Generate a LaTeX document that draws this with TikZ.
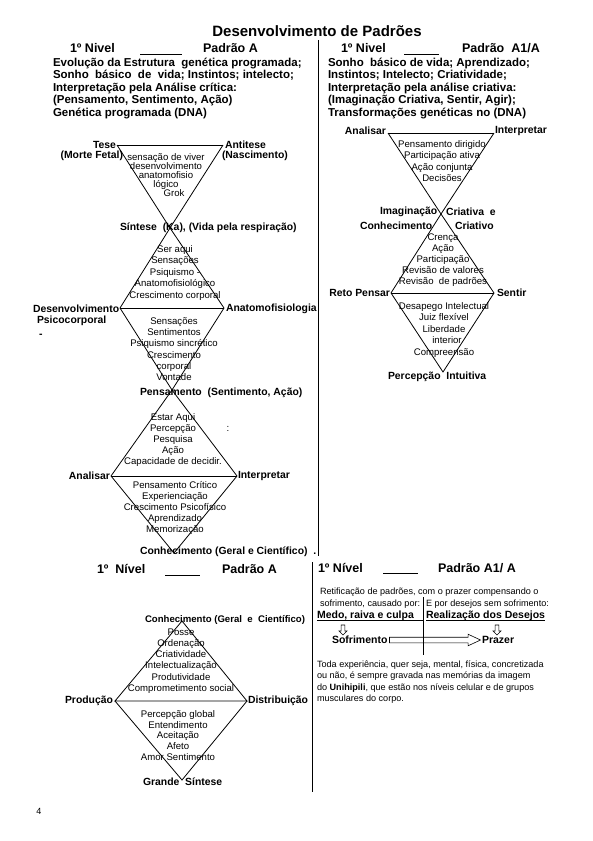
\documentclass[tikz,border=0pt]{standalone}
\usepackage{fontspec}
\setmainfont{Liberation Sans}
\usetikzlibrary{shapes.arrows,calc}
\begin{document}
\begin{tikzpicture}[x=1pt,y=-1pt,
  every node/.style={inner sep=0pt,outer sep=0pt},
  ttl/.style={font=\fontsize{15}{17}\selectfont\bfseries},
  hd/.style={font=\fontsize{12.5}{14}\selectfont\bfseries,anchor=west},
  hl/.style={font=\fontsize{11.5}{12.5}\selectfont\bfseries,anchor=west,align=left},
  lb/.style={font=\fontsize{10.4}{12}\selectfont\bfseries},
  inr/.style={font=\fontsize{9.6}{#1}\selectfont,align=center},
  inr/.default=11,
  par/.style={font=\fontsize{9.1}{11.5}\selectfont,anchor=west,align=left},
  dg/.style={line width=0.8pt},
  blank/.style={line width=0.8pt},
  harrow/.style={single arrow,draw,line width=0.6pt,single arrow head indent=0pt}
]
\useasboundingbox (0,0) rectangle (592,841);
\fill[white] (0,0) rectangle (592,841);

% title
\node[ttl] (title) at (317,31) {Desenvolvimento de Padrões};

% dividers
\coordinate (v1a) at (318,40); \coordinate (v1b) at (318,556);
\coordinate (v2a) at (312,562); \coordinate (v2b) at (312,792);
\draw[line width=0.8pt] (v1a) -- (v1b);
\draw[line width=0.8pt] (v2a) -- (v2b);

% ---------- top left header ----------
\node[hd] (lniv) at (70,48) {1º Nivel};
\coordinate (lb1) at (140,54); \coordinate (lb2) at (182,54);
\draw[blank] (lb1) -- (lb2);
\node[hd] (lpad) at (203,48) {Padrão A};
\node[hl] (lhead) at (53,88) {Evolução da Estrutura\ \ genética programada;\\
Sonho\ \ básico\ \ de\ \ vida; Instintos; intelecto;\\
Interpretação pela Análise crítica:\\
(Pensamento, Sentimento, Ação)\\
Genética programada (DNA)};

% ---------- top right header ----------
\node[hd] (rniv) at (341,48) {1º Nivel};
\coordinate (rb1) at (404,54); \coordinate (rb2) at (439,54);
\draw[blank] (rb1) -- (rb2);
\node[hd] (rpad) at (462,48) {Padrão\ \ A1/A};
\node[hl] (rhead) at (328,88) {Sonho\ \ básico de vida; Aprendizado;\\
Instintos; Intelecto; Criatividade;\\
Interpretação pela análise criativa:\\
(Imaginação Criativa, Sentir, Agir);\\
Transformações genéticas no (DNA)};

% ---------- left column diagram ----------
\coordinate (t1) at (117,145); \coordinate (t2) at (223,145);
\coordinate (x1) at (170,228);
\coordinate (d1l) at (120,308); \coordinate (d1r) at (224,308);
\coordinate (x2) at (172,390);
\coordinate (d2l) at (111,476); \coordinate (d2r) at (237,476);
\coordinate (x3) at (174,553);
\draw[dg] (t1) -- (t2);
\draw[dg] (t1) -- (x1) -- (d1r);
\draw[dg] (t2) -- (x1) -- (d1l);
\draw[dg] (d1l) -- (d1r);
\draw[dg] (d1l) -- (x2) -- (d2r);
\draw[dg] (d1r) -- (x2) -- (d2l);
\draw[dg] (d2l) -- (d2r);
\draw[dg] (d2l) -- (x3) -- (d2r);

\node[lb,anchor=east] (tese) at (116,145) {Tese};
\node[lb,anchor=east] (morte) at (123,156) {(Morte Fetal)};
\node[lb,anchor=west] (anti) at (225,145) {Antitese};
\node[lb,anchor=west] (nasc) at (222,156) {(Nascimento)};
\node[inr=9] (tri1) at (166,175) {sensação de viver\\desenvolvimento\\anatomofisio\\lógico\hspace{18pt}\\\hspace{16pt}Grok};
\node[lb,anchor=west] (sint) at (120,228) {Síntese\ \ (Ka), (Vida pela respiração)};

\node[inr=11.5] (d1up) at (175,273) {Ser aqui\\Sensações\\Psiquismo -\\Anatomofisiológico\\Crescimento corporal};
\node[lb,anchor=west] (desv) at (33,309) {Desenvolvimento};
\node[lb,anchor=west] (psico) at (37,321) {Psicocorporal};
\node[lb,anchor=west] (dash) at (39,336) {-};
\node[lb,anchor=west] (anat) at (226,309) {Anatomofisiologia};
\node[inr=11.3] (d1lo) at (174,349) {Sensações\\Sentimentos\\Psiquismo sincrético\\Crescimento\\corporal\\Vontade};

\node[lb,anchor=west] (pens) at (140,393) {Pensamento\ \ (Sentimento, Ação)};
\node[inr=11.2] (d2up) at (173,440) {Estar Aqui\\Percepção\\Pesquisa\\Ação\\Capacidade de decidir.};
\node[inr] (colon) at (228,429) {:};
\node[lb,anchor=east] (anal) at (110,476) {Analisar};
\node[lb,anchor=west] (inter) at (238,476) {Interpretar};
\node[inr=10.8] (d2lo) at (175,508) {Pensamento Crítico\\Experienciação\\Crescimento Psicofísico\\Aprendizado\\Memorização};
\node[lb,anchor=west] (conh) at (140,552) {Conhecimento (Geral e Científico)\ \ .};

% ---------- right column diagram ----------
\coordinate (a1) at (388,133); \coordinate (a2) at (494,133);
\coordinate (rx) at (441,214);
\coordinate (r1) at (391,293); \coordinate (r2) at (494,293);
\coordinate (rb) at (443,372);
\draw[dg] (a1) -- (a2);
\draw[dg] (a1) -- (rx) -- (r2);
\draw[dg] (a2) -- (rx) -- (r1);
\draw[dg] (r1) -- (r2);
\draw[dg] (r1) -- (rb) -- (r2);

\node[lb,anchor=east] (ranal) at (386,131) {Analisar};
\node[lb,anchor=west] (rinter) at (495,131) {Interpretar};
\node[inr=11.3] (rtri) at (442,161) {Pensamento dirigido\\Participação ativa\\Ação conjunta\\Decisões};
\node[lb,anchor=west] (imag) at (380,212) {Imaginação};
\node[lb,anchor=west] (criae) at (446,212) {Criativa\ \ e};
\node[lb,anchor=west] (rconh) at (360,226) {Conhecimento};
\node[lb,anchor=west] (criat) at (455,226) {Criativo};
\node[inr=11] (rdup) at (443,260) {Crença\\Ação\\Participação\\Revisão de valores\\Revisão\ \ de padrões};
\node[lb,anchor=east] (reto) at (390,293) {Reto Pensar};
\node[lb,anchor=west] (sent) at (497,293) {Sentir};
\node[inr=11.5] (rdlo) at (444,330) {Desapego Intelectual\\Juiz flexível\\Liberdade\\\hspace{6pt}interior\\Compreensão};
\node[lb,anchor=west] (perc) at (388,377) {Percepção\ \ Intuitiva};

% ---------- bottom left ----------
\node[hd] (bniv) at (97,569) {1º\ \ Nível};
\coordinate (bb1) at (165,575); \coordinate (bb2) at (200,575);
\draw[blank] (bb1) -- (bb2);
\node[hd] (bpad) at (222,569) {Padrão A};

\coordinate (bt) at (182,621); \coordinate (bl) at (115,701);
\coordinate (br) at (247,701); \coordinate (bbt) at (182,780);
\draw[dg] (bt) -- (bl) -- (br) -- cycle;
\draw[dg] (bl) -- (bbt) -- (br);

\node[lb,anchor=west,font=\fontsize{9.6}{11}\selectfont\bfseries] (bconh) at (145,620) {Conhecimento (Geral\ \ e\ \ Científico)};
\node[inr=11.3] (bup) at (181,661) {Posse\\Ordenação\\Criatividade\\Intelectualização\\Produtividade\\Comprometimento social};
\node[lb,anchor=east] (prod) at (113,701) {Produção};
\node[lb,anchor=west] (dist) at (248,701) {Distribuição};
\node[inr=10.7] (bdown) at (178,735.5) {Percepção global\\Entendimento\\Aceitação\\Afeto\\Amor Sentimento};
\node[lb,anchor=west] (grande) at (143,782) {Grande\ \ Síntese};

% ---------- bottom right ----------
\node[hd] (cniv) at (318,568) {1º Nível};
\coordinate (cb1) at (383,573); \coordinate (cb2) at (418,573);
\draw[blank] (cb1) -- (cb2);
\node[hd] (cpad) at (438,568) {Padrão A1/ A};

\node[par] (ret) at (320,592) {Retificação de padrões, com o prazer compensando o};
\node[par] (sofc) at (320,604) {sofrimento, causado por:};
\node[par] (epor) at (426,604) {E por desejos sem sofrimento:};
\coordinate (sv1) at (423,597); \coordinate (sv2) at (423,655);
\draw[line width=0.7pt] (sv1) -- (sv2);

\node[lb,anchor=west,font=\fontsize{10.5}{12}\selectfont\bfseries] (medo) at (317,616) {Medo, raiva e culpa};
\node[lb,anchor=west,font=\fontsize{10.5}{12}\selectfont\bfseries] (real) at (426,616) {Realização dos Desejos};
\path ([yshift=-2pt]medo.base west) coordinate (u1);
\path ([yshift=-2pt]real.base west) coordinate (u2);
\path ([yshift=-2pt]real.base east) coordinate (u3);
\draw[line width=0.7pt] (u1) -- (u1 -| sv1);
\draw[line width=0.7pt] (u2) -- (u3);

\node[harrow,shape border rotate=270,minimum height=10pt,minimum width=8pt,inner sep=1.5pt,single arrow head extend=2pt] (da1) at (343,629) {};
\node[harrow,shape border rotate=270,minimum height=10pt,minimum width=8pt,inner sep=1.5pt,single arrow head extend=2pt] (da2) at (497,629) {};

\node[lb,anchor=west,font=\fontsize{10.5}{12}\selectfont\bfseries] (sofr) at (332,640) {Sofrimento};
\node[lb,anchor=west,font=\fontsize{10.5}{12}\selectfont\bfseries] (praz) at (482,640) {Prazer};
\node[harrow,minimum height=91pt,minimum width=11pt,inner sep=2.5pt,single arrow head extend=3pt,single arrow tip angle=50] (big) at (432,640) {};

\node[par] (toda) at (317,682) {Toda experiência, quer seja, mental, física, concretizada\\
ou não, é sempre gravada nas memórias da imagem\\
do \textbf{Unihipili}, que estão nos níveis celular e de grupos\\
musculares do corpo.};

% page number
\node[font=\fontsize{9}{11}\selectfont] (pnum) at (39,811) {4};
\end{tikzpicture}
\end{document}
